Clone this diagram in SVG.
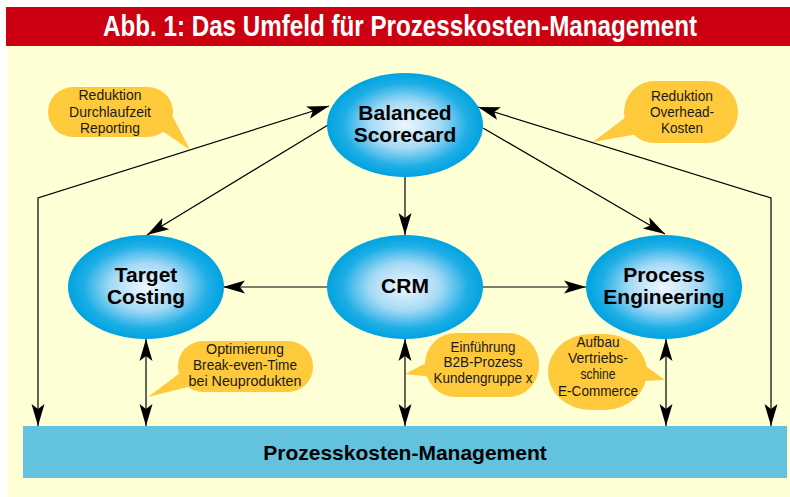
<svg xmlns="http://www.w3.org/2000/svg" width="790" height="497" viewBox="0 0 790 497">
  <defs>
    <radialGradient id="oval" cx="50%" cy="50%" r="50%">
      <stop offset="0" stop-color="#EEF7FE"/>
      <stop offset="0.45" stop-color="#A6DAF5"/>
      <stop offset="0.8" stop-color="#1EAEE6"/>
      <stop offset="1" stop-color="#00A3E0"/>
    </radialGradient>
    <marker id="head" viewBox="-23 -7 24 14" refX="0" refY="0" markerWidth="24" markerHeight="14" markerUnits="userSpaceOnUse" orient="auto-start-reverse">
      <path d="M0,0 L-22,-6.5 L-17,0 L-22,6.5 Z" fill="#000"/>
    </marker>
    <style>
      .node { fill: url(#oval); }
      .nlabel { font-family: "Liberation Sans", Arial, sans-serif; font-weight: bold; font-size: 21px; fill: #000; text-anchor: middle; }
      .bubble { fill: #FFC93C; }
      .blabel { font-family: "Liberation Sans Narrow", "Liberation Sans", Arial, sans-serif; font-size: 15px; fill: #1a1a1a; text-anchor: middle; }
      .conn { fill: none; stroke: #000; stroke-width: 1.2; }
      .one { marker-end: url(#head); }
      .two { marker-start: url(#head); marker-end: url(#head); }
    </style>
  </defs>

  <!-- page and title bar -->
  <rect x="8" y="46" width="782" height="451" fill="#FFFFD6"/>
  <rect x="6" y="7" width="784" height="39" fill="#CC0010"/>
  <text x="400" y="36" textLength="594" lengthAdjust="spacingAndGlyphs" font-family="'Liberation Sans Narrow', 'Liberation Sans', Arial, sans-serif" font-weight="bold" font-size="30" fill="#fff" text-anchor="middle">Abb. 1: Das Umfeld für Prozesskosten-Management</text>

  <!-- base bar -->
  <g id="prozesskosten-management">
    <rect x="23" y="426" width="764" height="52" fill="#63C3DF"/>
    <text class="nlabel" x="405" y="460">Prozesskosten-Management</text>
  </g>

  <!-- speech bubbles -->
  <g id="note-durchlaufzeit">
    <polygon class="bubble" points="158,128 190,150 173,117"/>
    <rect class="bubble" x="48" y="87" width="125" height="50" rx="25"/>
    <text class="blabel"><tspan x="110" y="100" textLength="63" lengthAdjust="spacingAndGlyphs">Reduktion</tspan><tspan x="110" y="117" textLength="82" lengthAdjust="spacingAndGlyphs">Durchlaufzeit</tspan><tspan x="110" y="133" textLength="60" lengthAdjust="spacingAndGlyphs">Reporting</tspan></text>
  </g>
  <g id="note-overhead">
    <polygon class="bubble" points="630,114 593,142 638,134"/>
    <rect class="bubble" x="624" y="81" width="114" height="62" rx="31"/>
    <text class="blabel"><tspan x="682" y="101" textLength="62" lengthAdjust="spacingAndGlyphs">Reduktion</tspan><tspan x="682" y="117" textLength="64" lengthAdjust="spacingAndGlyphs">Overhead-</tspan><tspan x="682" y="133" textLength="42" lengthAdjust="spacingAndGlyphs">Kosten</tspan></text>
  </g>
  <g id="note-break-even">
    <polygon class="bubble" points="184,370 148,397 192,386"/>
    <rect class="bubble" x="178" y="341" width="135" height="51" rx="25"/>
    <text class="blabel"><tspan x="245" y="354" textLength="78" lengthAdjust="spacingAndGlyphs">Optimierung</tspan><tspan x="245" y="370" textLength="104" lengthAdjust="spacingAndGlyphs">Break-even-Time</tspan><tspan x="245" y="386" textLength="113" lengthAdjust="spacingAndGlyphs">bei Neuprodukten</tspan></text>
  </g>
  <g id="note-b2b">
    <polygon class="bubble" points="430,361 405,374 432,377"/>
    <rect class="bubble" x="425" y="333" width="114" height="64" rx="31"/>
    <text class="blabel"><tspan x="483" y="352" textLength="65" lengthAdjust="spacingAndGlyphs">Einführung</tspan><tspan x="483" y="367" textLength="79" lengthAdjust="spacingAndGlyphs">B2B-Prozess</tspan><tspan x="483" y="383" textLength="99" lengthAdjust="spacingAndGlyphs">Kundengruppe x</tspan></text>
  </g>
  <g id="note-vertrieb">
    <polygon class="bubble" points="640,362 665,380 642,381"/>
    <rect class="bubble" x="548" y="334" width="99" height="76" rx="42" ry="38"/>
    <text class="blabel"><tspan x="598" y="347" textLength="43" lengthAdjust="spacingAndGlyphs">Aufbau</tspan><tspan x="598" y="363" textLength="60" lengthAdjust="spacingAndGlyphs">Vertriebs-</tspan><tspan x="598" y="379" textLength="35" lengthAdjust="spacingAndGlyphs">schine</tspan><tspan x="598" y="396" textLength="80" lengthAdjust="spacingAndGlyphs">E-Commerce</tspan></text>
  </g>

  <!-- connectors -->
  <g id="connectors">
    <path class="conn two" d="M38,426 V198 L329,106"/>
    <path class="conn two" d="M771,426 V198 L478,107"/>
    <path class="conn one" d="M328,125 L147,235"/>
    <path class="conn one" d="M405,177 V235"/>
    <path class="conn one" d="M483,128 L665,234"/>
    <path class="conn one" d="M327,287 H223"/>
    <path class="conn one" d="M483,287 H586"/>
    <path class="conn two" d="M146,339 V426"/>
    <path class="conn two" d="M405,339 V426"/>
    <path class="conn two" d="M666,339 V426"/>
  </g>

  <!-- nodes -->
  <g id="balanced-scorecard">
    <ellipse class="node" cx="405" cy="125" rx="78" ry="52"/>
    <text class="nlabel"><tspan x="405" y="120">Balanced</tspan><tspan x="405" y="142">Scorecard</tspan></text>
  </g>
  <g id="target-costing">
    <ellipse class="node" cx="146" cy="287" rx="78" ry="52"/>
    <text class="nlabel"><tspan x="146" y="282">Target</tspan><tspan x="146" y="304">Costing</tspan></text>
  </g>
  <g id="crm">
    <ellipse class="node" cx="405" cy="287" rx="78" ry="52"/>
    <text class="nlabel" x="405" y="293">CRM</text>
  </g>
  <g id="process-engineering">
    <ellipse class="node" cx="664" cy="287" rx="78" ry="52"/>
    <text class="nlabel"><tspan x="664" y="282">Process</tspan><tspan x="664" y="304">Engineering</tspan></text>
  </g>
</svg>
